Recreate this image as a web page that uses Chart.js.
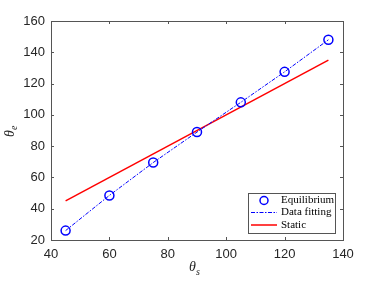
<!DOCTYPE html>
<html>
<head>
<meta charset="utf-8">
<script src="https://cdn.jsdelivr.net/npm/chart.js@4"></script>
<style>
  html, body { margin: 0; padding: 0; background: #fff; }
  #wrap { width: 378px; height: 283px; position: relative; }
</style>
</head>
<body>
<div id="wrap"><canvas id="chart"></canvas></div>
<script>
// --- data ---
const thetaS = [45, 60, 75, 90, 105, 120, 135];
const equilibrium = [26, 48.5, 69.5, 89, 108, 127.5, 148];
const staticX = [45, 135];
const staticY = [45, 135];
const legendLabels = ['Equilibrium', 'Data fitting', 'Static'];

const pts = (xs, ys) => xs.map((x, i) => ({ x: x, y: ys[i] }));
const AXIS = '#262626';

// box, inward ticks, axis titles, legend
const matlabStyle = {
  id: 'matlabStyle',
  afterDraw(chart) {
    const ctx = chart.ctx;
    const a = chart.chartArea;
    const sx = chart.scales.x, sy = chart.scales.y;
    ctx.save();
    ctx.strokeStyle = '#555';
    ctx.lineWidth = 1;
    ctx.strokeRect(Math.round(a.left) + 0.5, Math.round(a.top) + 0.5, Math.round(a.right - a.left), Math.round(a.bottom - a.top));
    const tl = 3;
    ctx.beginPath();
    sx.ticks.forEach(t => {
      const x = Math.round(sx.getPixelForValue(t.value)) + 0.5;
      ctx.moveTo(x, a.bottom); ctx.lineTo(x, a.bottom - tl);
      ctx.moveTo(x, a.top); ctx.lineTo(x, a.top + tl);
    });
    sy.ticks.forEach(t => {
      const y = Math.round(sy.getPixelForValue(t.value)) + 0.5;
      ctx.moveTo(a.left, y); ctx.lineTo(a.left + tl, y);
      ctx.moveTo(a.right, y); ctx.lineTo(a.right - tl, y);
    });
    ctx.stroke();

    // axis titles
    ctx.fillStyle = AXIS;
    ctx.textBaseline = 'alphabetic';
    ctx.textAlign = 'left';
    ctx.font = 'italic 14px "Liberation Serif"';
    ctx.fillText('\u03b8', 189, 271);
    ctx.font = 'italic 10px "Liberation Serif"';
    ctx.fillText('s', 196, 275);

    ctx.save();
    ctx.translate(14, 137);
    ctx.rotate(-Math.PI / 2);
    ctx.font = 'italic 14px "Liberation Serif"';
    ctx.fillText('\u03b8', 0, 0);
    ctx.font = 'italic 10px "Liberation Serif"';
    ctx.fillText('e', 7, 3);
    ctx.restore();

    // legend
    const lx = 248, ly = 193, lw = 87, lh = 40;
    ctx.fillStyle = '#fff';
    ctx.fillRect(lx, ly, lw, lh);
    ctx.strokeStyle = '#555';
    ctx.lineWidth = 1;
    ctx.strokeRect(lx + 0.5, ly + 0.5, lw, lh);
    const rows = [200.5, 212.5, 225];
    // marker
    ctx.strokeStyle = '#0000ff';
    ctx.lineWidth = 1.5;
    ctx.beginPath();
    ctx.arc(264, rows[0], 4, 0, Math.PI * 2);
    ctx.stroke();
    // dash-dot line
    ctx.lineWidth = 1;
    ctx.setLineDash([4, 1.5, 1.5, 1.5]);
    ctx.beginPath();
    ctx.moveTo(251, rows[1]); ctx.lineTo(277, rows[1]);
    ctx.stroke();
    ctx.setLineDash([]);
    ctx.strokeStyle = '#ff0000';
    ctx.lineWidth = 1.5;
    ctx.beginPath();
    ctx.moveTo(251, rows[2]); ctx.lineTo(277, rows[2]);
    ctx.stroke();
    ctx.fillStyle = '#000';
    ctx.font = '11px "Liberation Serif"';
    ctx.textBaseline = 'middle';
    legendLabels.forEach((t, i) => ctx.fillText(t, 281, rows[i]));
    ctx.restore();
  }
};

new Chart(document.getElementById('chart'), {
  type: 'scatter',
  data: {
    datasets: [
      { label: legendLabels[1], data: pts(thetaS, equilibrium), showLine: true, borderColor: '#0000ff', borderWidth: 1, borderDash: [4, 1.5, 1.5, 1.5], pointRadius: 0, order: 2 },
      { label: legendLabels[2], data: pts(staticX, staticY), showLine: true, borderColor: '#ff0000', borderWidth: 1.5, pointRadius: 0, order: 3 },
      { label: legendLabels[0], data: pts(thetaS, equilibrium), showLine: false, borderColor: '#0000ff', backgroundColor: 'rgba(0,0,0,0)', borderWidth: 1.5, pointRadius: 4.5, order: 1 }
    ]
  },
  options: {
    responsive: true,
    maintainAspectRatio: false,
    animation: false,
    layout: { padding: { left: 0, top: 21, right: 35, bottom: 0 } },
    plugins: { legend: { display: false }, tooltip: { enabled: false } },
    scales: {
      x: {
        type: 'linear', min: 40, max: 140,
        ticks: { stepSize: 20, color: AXIS, font: { family: 'Liberation Sans', size: 13 }, padding: 7, maxRotation: 0 },
        grid: { display: false, drawTicks: false },
        border: { display: false },
        afterFit: s => { s.height = 43; }
      },
      y: {
        type: 'linear', min: 20, max: 160,
        ticks: { stepSize: 20, color: AXIS, font: { family: 'Liberation Sans', size: 13 }, padding: 6 },
        grid: { display: false, drawTicks: false },
        border: { display: false },
        afterFit: s => { s.width = 51; }
      }
    }
  },
  plugins: [matlabStyle]
});
</script>
</body>
</html>
